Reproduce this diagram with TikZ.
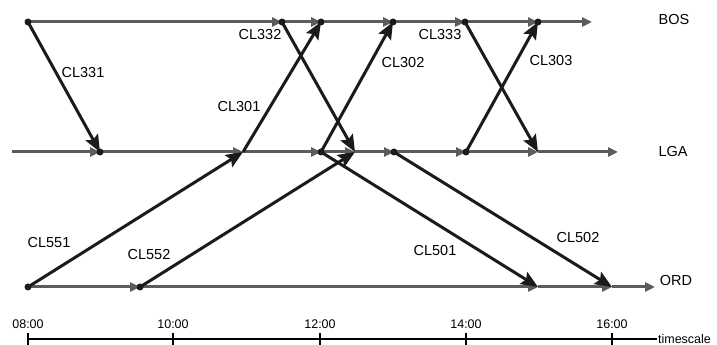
\documentclass[tikz,border=0pt]{standalone}
\usepackage{fontspec}
\setmainfont{Liberation Sans}
\usetikzlibrary{arrows.meta}

\definecolor{trackgray}{RGB}{92,92,96}
\definecolor{flightblack}{RGB}{28,26,26}

\begin{document}
\begin{tikzpicture}[
    x=1pt, y=1pt,
    every node/.style={font=\fontsize{14.5}{16}\selectfont},
    track/.style={line width=3pt, trackgray, -{Triangle[length=10pt,width=9pt]}},
    flight/.style={line width=3pt, flightblack, -{Stealth[length=17pt,width=14pt,inset=3pt]}},
    stop/.style={circle, fill=flightblack, inner sep=0pt, minimum size=7pt},
    tick/.style={font=\fontsize{12.5}{15}\selectfont},
  ]
  \useasboundingbox (0,0) rectangle (717,345);

  % Events on the BOS line
  \coordinate (bos0) at (28,323);
  \coordinate (bos1) at (282,323);
  \coordinate (bos2) at (321,323);
  \coordinate (bos3) at (393,323);
  \coordinate (bos4) at (465,323);
  \coordinate (bos5) at (538,323);
  \coordinate (bosE) at (592,323);

  % Events on the LGA line
  \coordinate (lga0) at (12,193);
  \coordinate (lga1) at (100,193);
  \coordinate (lga2) at (243,193);
  \coordinate (lga3) at (321,193);
  \coordinate (lga4) at (355,193);
  \coordinate (lga5) at (394,193);
  \coordinate (lga6) at (466,193);
  \coordinate (lga7) at (538,193);
  \coordinate (lgaE) at (618,193);

  % Events on the ORD line
  \coordinate (ord0) at (28,58);
  \coordinate (ord1) at (140,58);
  \coordinate (ord2) at (538,58);
  \coordinate (ord3) at (612,58);
  \coordinate (ordE) at (655,58);

  % Station time lines
  \draw[track] (bos0) -- (bos1);
  \draw[track] (bos1) -- (bos2);
  \draw[track] (bos2) -- (bos3);
  \draw[track] (bos3) -- (bos4);
  \draw[track] (bos4) -- (bos5);
  \draw[track] (bos5) -- (bosE);

  \draw[track] (lga0) -- (lga1);
  \draw[track] (lga1) -- (lga2);
  \draw[track] (lga2) -- (lga3);
  \draw[track] (lga3) -- (lga4);
  \draw[track] (lga4) -- (lga5);
  \draw[track] (lga5) -- (lga6);
  \draw[track] (lga6) -- (lga7);
  \draw[track] (lga7) -- (lgaE);

  \draw[track] (ord0) -- (ord1);
  \draw[track] (ord1) -- (ord2);
  \draw[track] (ord2) -- (ord3);
  \draw[track] (ord3) -- (ordE);

  \node (bos) at (674,325) {BOS};
  \node (lga) at (673,193) {LGA};
  \node (ord) at (676,64) {ORD};

  % Flights
  \draw[flight] (bos0) -- (lga1);
  \draw[flight] (bos1) -- (lga4);
  \draw[flight] (lga2) -- (bos2);
  \draw[flight] (lga3) -- (bos3);
  \draw[flight] (bos4) -- (lga7);
  \draw[flight] (lga6) -- (bos5);
  \draw[flight] (ord0) -- (lga2);
  \draw[flight] (ord1) -- (lga4);
  \draw[flight] (lga3) -- (ord2);
  \draw[flight] (lga5) -- (ord3);

  % Departure / arrival dots
  \foreach \p in {bos0,bos1,bos2,bos3,bos4,bos5,lga1,lga3,lga5,lga6,ord0,ord1}
    \node[stop] (dot-\p) at (\p) {};

  % Flight labels
  \node (cl331) at (83,272) {CL331};
  \node (cl332) at (260,310) {CL332};
  \node (cl301) at (239,238) {CL301};
  \node (cl302) at (403,282) {CL302};
  \node (cl333) at (440,310) {CL333};
  \node (cl303) at (551,284) {CL303};
  \node (cl551) at (49,102) {CL551};
  \node (cl552) at (149,90) {CL552};
  \node (cl501) at (435,94) {CL501};
  \node (cl502) at (578,107) {CL502};

  % Time scale
  \coordinate (ts0) at (28,6);
  \coordinate (ts1) at (657,6);
  \draw[line width=1.2pt] (ts0) -- (ts1) node[tick, right, inner sep=0.5pt] (ts) {timescale};
  \foreach \x/\t in {28/08:00, 173/10:00, 320/12:00, 466/14:00, 612/16:00} {
    \draw[line width=1.2pt] (\x,0) -- (\x,12);
    \node[tick] (t\x) at (\x,20.5) {\t};
  }
\end{tikzpicture}
\end{document}
